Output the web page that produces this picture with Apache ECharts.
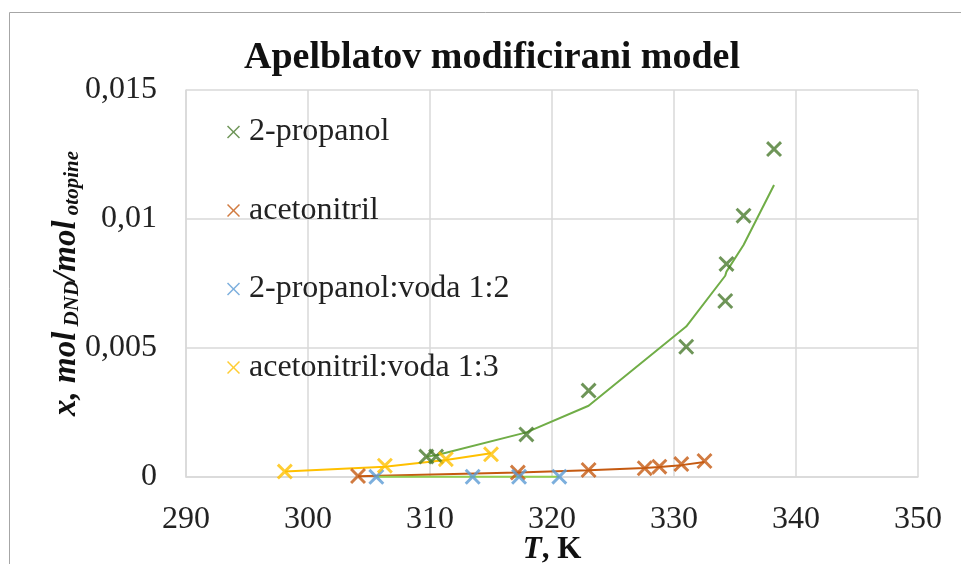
<!DOCTYPE html>
<html>
<head>
<meta charset="utf-8">
<script src="https://cdn.jsdelivr.net/npm/echarts@6/dist/echarts.min.js"></script>
<style>
  html, body { margin: 0; padding: 0; background: #fff; }
  #chart { width: 961px; height: 564px; }
</style>
</head>
<body>
<div id="chart"></div>
<script>
// 2-propanol
const tPropanol = [309.7, 310.5, 317.9, 323.0, 331.0, 334.2, 334.3, 335.7, 338.2]
const xPropanol = [0.00079, 0.00079, 0.00165, 0.00335, 0.00505, 0.00682, 0.00826, 0.01013, 0.01271]
const modelPropanol = [0.00079, 0.00084, 0.00173, 0.00276, 0.00583, 0.0078, 0.00796, 0.00899, 0.01132]
// acetonitril
const tAcn = [304.1, 317.2, 323.0, 327.6, 328.8, 330.6, 332.5]
const xAcn = [0.00004, 0.00017, 0.00027, 0.00034, 0.0004, 0.0005, 0.00062]
const modelAcn = [0.00003, 0.00017, 0.00026, 0.00035, 0.00039, 0.00046, 0.00058]
// 2-propanol:voda 1:2
const tPw = [305.6, 313.5, 317.3, 320.6]
const xPw = [0.000005, 0.00001, 0.00001, 0.000012]
const modelPw = [0.000005, 0.000008, 0.00001, 0.000012]
// acetonitril:voda 1:3
const tAw = [298.1, 306.3, 311.3, 315.0]
const xAw = [0.00021, 0.00044, 0.00069, 0.00088]
const modelAw = [0.00021, 0.0004, 0.00066, 0.00092]

const names = ['2-propanol', 'acetonitril', '2-propanol:voda 1:2', 'acetonitril:voda 1:3']
const xTicks = [290, 300, 310, 320, 330, 340, 350]
const yTicks = [0, 0.005, 0.01, 0.015]

const font = 'Liberation Serif'
// oznaka x (deblja za tocke, tanja za legendu)
const cross = 'path://M0,1.3L1.3,0L5,3.7L8.7,0L10,1.3L6.3,5L10,8.7L8.7,10L5,6.3L1.3,10L0,8.7L3.7,5Z'
const crossThin = 'path://M0,0.8L0.8,0L5,4.2L9.2,0L10,0.8L5.8,5L10,9.2L9.2,10L5,5.8L0.8,10L0,9.2L4.2,5Z'

const pairs = (t, v) => t.map((item, i) => [item, v[i]])

const sets = [
  { t: tPropanol, x: xPropanol, m: modelPropanol, mark: '#4a7a2e', line: '#70ad47' },
  { t: tAcn, x: xAcn, m: modelAcn, mark: '#c55a11', line: '#c55a11' },
  { t: tPw, x: xPw, m: modelPw, mark: '#5b9bd5', line: '#92d050' },
  { t: tAw, x: xAw, m: modelAw, mark: '#ffc000', line: '#ffc000' }
]

const series = []
sets.forEach((s, i) => {
  series.push({
    name: 'model ' + names[i],
    type: 'line',
    data: pairs(s.t, s.m),
    symbol: 'none',
    lineStyle: { color: s.line, width: 2 },
    z: 2
  })
})
sets.forEach((s, i) => {
  series.push({
    name: names[i],
    type: 'scatter',
    data: pairs(s.t, s.x),
    symbol: cross,
    symbolSize: 16,
    itemStyle: { color: s.mark },
    z: 3
  })
})

const chart = echarts.init(document.getElementById('chart'))
chart.setOption({
  animation: false,
  textStyle: { fontFamily: font },
  graphic: [{
    type: 'rect',
    left: 7,
    top: 10,
    shape: { width: 1000, height: 600 },
    style: { fill: 'none', stroke: '#a6a6a6', lineWidth: 1 }
  }],
  title: {
    text: 'Apelblatov modificirani model',
    left: 487,
    top: 34,
    textAlign: 'center',
    textStyle: { fontFamily: font, fontSize: 38, fontWeight: 'bold', color: '#111' }
  },
  grid: { left: 186, right: 43, top: 90, bottom: 87, outerBoundsMode: 'none' },
  legend: {
    data: names,
    orient: 'vertical',
    left: 227,
    top: 116,
    padding: 0,
    itemWidth: 13,
    itemHeight: 13,
    itemGap: 46.5,
    icon: crossThin,
    textStyle: { fontFamily: font, fontSize: 32, color: '#222', lineHeight: 32, padding: [0, 0, 0, 4] }
  },
  xAxis: {
    type: 'value',
    min: xTicks[0],
    max: xTicks[xTicks.length - 1],
    interval: 10,
    name: '{i|T}{b|, K}',
    nameLocation: 'middle',
    nameGap: 57,
    nameMoveOverlap: false,
    nameTextStyle: {
      rich: {
        i: { fontFamily: font, fontSize: 31, fontWeight: 'bold', fontStyle: 'italic', color: '#111' },
        b: { fontFamily: font, fontSize: 31, fontWeight: 'bold', color: '#111' }
      }
    },
    axisLine: { show: true, lineStyle: { color: '#d9d9d9', width: 1.5 } },
    axisTick: { show: false },
    splitLine: { show: true, lineStyle: { color: '#d9d9d9', width: 1.5 } },
    axisLabel: { fontFamily: font, fontSize: 32, color: '#222', margin: 27 }
  },
  yAxis: {
    type: 'value',
    min: yTicks[0],
    max: yTicks[yTicks.length - 1],
    interval: 0.005,
    name: '{m|x, mol}{s| DND}{m|/mol}{s| otopine}',
    nameLocation: 'middle',
    nameRotate: 90,
    nameGap: 103,
    nameMoveOverlap: false,
    nameTextStyle: {
      rich: {
        m: { fontFamily: font, fontSize: 33, fontWeight: 'bold', fontStyle: 'italic', color: '#111', lineHeight: 33 },
        s: { fontFamily: font, fontSize: 21, fontWeight: 'bold', fontStyle: 'italic', color: '#111', lineHeight: 13, verticalAlign: 'bottom' }
      }
    },
    axisLine: { show: true, lineStyle: { color: '#d9d9d9', width: 1.5 } },
    axisTick: { show: false },
    splitLine: { show: true, lineStyle: { color: '#d9d9d9', width: 1.5 } },
    axisLabel: {
      fontFamily: font,
      fontSize: 32,
      color: '#222',
      margin: 29,
      formatter: v => String(+v.toFixed(3)).replace('.', ',')
    }
  },
  series: series
})
</script>
</body>
</html>
